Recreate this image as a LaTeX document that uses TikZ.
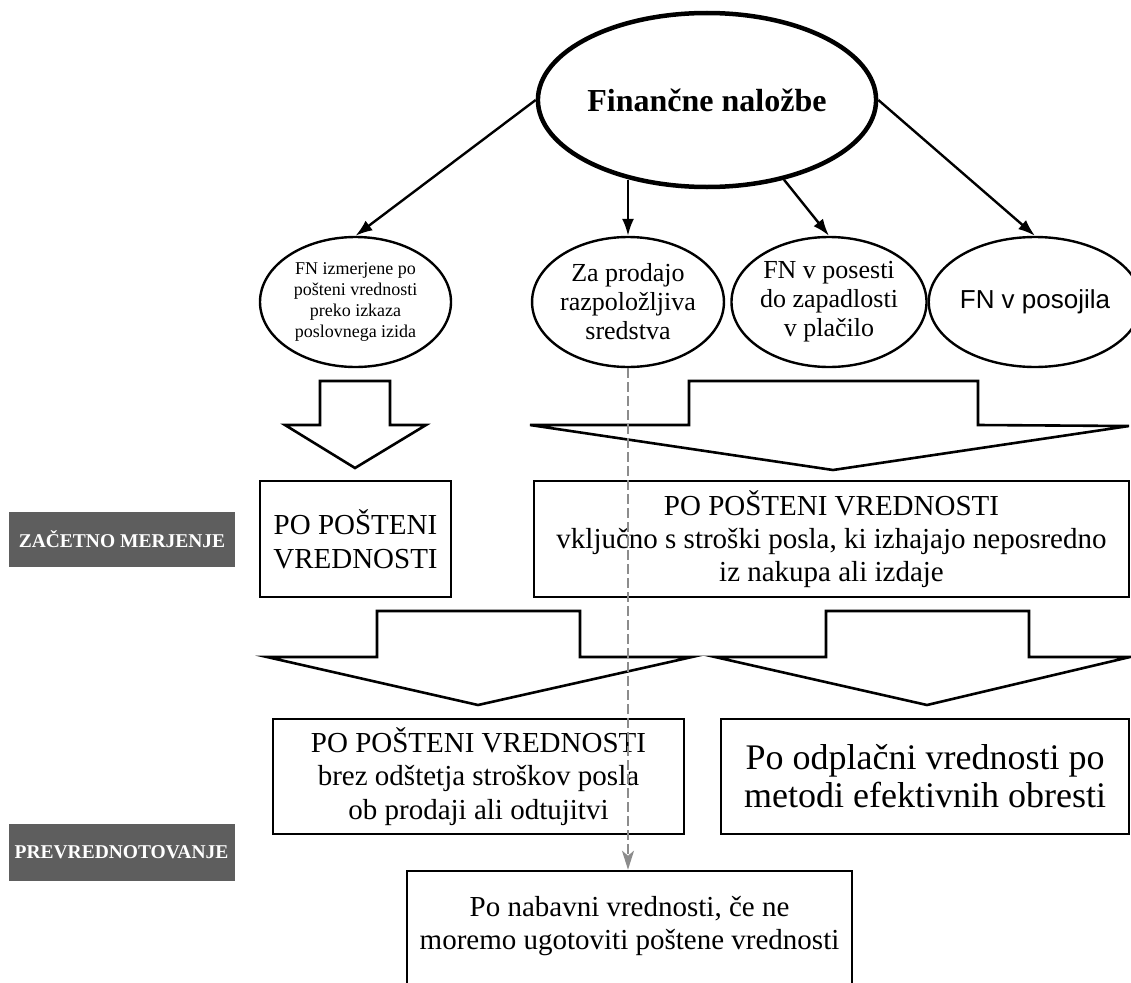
\documentclass[tikz,border=0pt]{standalone}
\usepackage{fontspec}
\setmainfont{Liberation Serif}
\newfontfamily\sansf{Liberation Sans}
\usetikzlibrary{shapes.geometric,arrows.meta}
\definecolor{labgray}{RGB}{94,94,94}
\definecolor{dashgray}{RGB}{140,140,140}
\begin{document}
\begin{tikzpicture}[x=1pt,y=-1pt,
  mainell/.style={ellipse,draw,line width=4.5pt,inner sep=0pt,minimum width=318pt,minimum height=174pt,
    font=\fontsize{32}{36}\selectfont\bfseries},
  subell/.style={ellipse,draw,line width=2.4pt,inner sep=0pt,minimum width=188pt,minimum height=130pt,align=center},
  boxnode/.style={rectangle,draw,line width=2.6pt,inner sep=0pt,align=center},
  labnode/.style={rectangle,fill=labgray,text=white,inner sep=0pt,minimum width=226pt,
    font=\fontsize{19.5}{22}\selectfont\bfseries},
  blockarrow/.style={draw,line width=2.6pt,line join=miter},
  conn/.style={line width=2.4pt,-{Latex[length=17pt,width=12pt]}},
  dashconn/.style={draw=dashgray,line width=2pt,dash pattern=on 10pt off 4pt,
    -{Stealth[length=19pt,width=12pt,inset=5pt,fill=dashgray]}}
]
\useasboundingbox (0,0) rectangle (1131,982);
\fill[white] (0,0) rectangle (1131,982);

% top ellipse
\node[mainell] (main) at (707,100) {Finančne naložbe};

% four sub ellipses
\node[subell,minimum width=191pt,font=\fontsize{18}{21}\selectfont] (e1) at (355.5,302)
  {FN izmerjene po\\pošteni vrednosti\\preko izkaza\\poslovnega izida};
\node[subell,font=\fontsize{26}{29}\selectfont] (e2) at (628,302)
  {Za prodajo\\razpoložljiva\\sredstva};
\node[subell,minimum width=186pt,font=\fontsize{26}{29}\selectfont] (e3) at (829,302)
  {FN v posesti\\do zapadlosti\\v plačilo};
\node[subell,font=\fontsize{26}{29}\selectfont\sansf] (e4) at (1035,302)
  {FN v posojila};

\draw[conn] (main.west) -- (e1.north);
\draw[conn] (main.226 -| e2.north) -- (e2.north);
\draw[conn] (main.314) -- (e3.north);
\draw[conn] (main.east) -- (e4.north);

% block arrows row 1
\draw[blockarrow] (320,381) -- (390,381) -- (390,425) -- (426,425) -- (355,468)
  -- (285,425) -- (320,425) -- cycle;
\draw[blockarrow] (689,381) -- (978,381) -- (978,425) -- (1129,426) -- (833,470)
  -- (530,425) -- (689,425) -- cycle;

% boxes row 1
\node[boxnode,minimum width=191pt,minimum height=116pt,font=\fontsize{29}{34}\selectfont] (b1) at (355.5,539)
  {PO POŠTENI\\VREDNOSTI};
\node[boxnode,minimum width=595pt,minimum height=116pt,font=\fontsize{29}{33}\selectfont] (b2) at (831.5,539)
  {PO POŠTENI VREDNOSTI\\vključno s stroški posla, ki izhajajo neposredno\\iz nakupa ali izdaje};

\node[labnode,minimum height=55pt] (l1) at (122,539.5) {ZAČETNO MERJENJE};

% block arrows row 2
\draw[blockarrow] (377,611) -- (580,611) -- (580,657) -- (692,657) -- (478,705)
  -- (267,657) -- (377,657) -- cycle;
\draw[blockarrow] (826,611) -- (1029,611) -- (1029,657) -- (1130,657) -- (927,705)
  -- (715,657) -- (826,657) -- cycle;

% boxes row 2
\node[boxnode,minimum width=411pt,minimum height=115pt,font=\fontsize{29}{33.5}\selectfont] (b3) at (478.5,776.5)
  {PO POŠTENI VREDNOSTI\\brez odštetja stroškov posla\\ob prodaji ali odtujitvi};
\node[boxnode,minimum width=408pt,minimum height=115pt,font=\fontsize{36}{38}\selectfont] (b4) at (925,776.5)
  {Po odplačni vrednosti po\\metodi efektivnih obresti};

\node[labnode,minimum height=57pt] (l2) at (121.5,852.5) {PREVREDNOTOVANJE};

% bottom box (runs off the page)
\node[boxnode,minimum width=445pt,minimum height=130pt] (b5) at (629.5,936) {};
\node[align=center,inner sep=0pt,font=\fontsize{29}{33}\selectfont] (b5t) at (629.5,926)
  {Po nabavni vrednosti, če ne\\moremo ugotoviti poštene vrednosti};

% dashed grey connector
\draw[dashconn] (e2.south) -- (e2.south |- b5.north);
\end{tikzpicture}
\end{document}
